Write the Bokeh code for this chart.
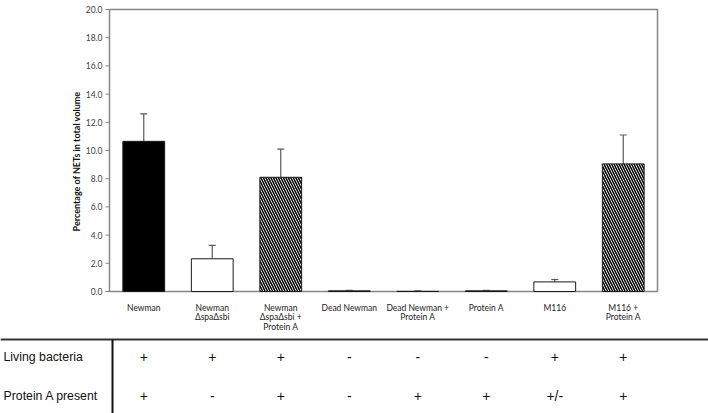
import math
from bokeh.plotting import figure
from bokeh.models import ColumnDataSource, Range1d, Whisker, TeeHead
from bokeh.embed import file_html
from bokeh.resources import INLINE
from bokeh.core.properties import value

# ---------------- data ----------------
categories = ["Newman", "Newman ΔspaΔsbi", "Newman ΔspaΔsbi + Protein A", "Dead Newman",
              "Dead Newman + Protein A", "Protein A", "M116", "M116 + Protein A"]
category_labels = ["Newman", "Newman\nΔspaΔsbi", "Newman\nΔspaΔsbi +\nProtein A", "Dead Newman",
                   "Dead Newman +\nProtein A", "Protein A", "M116", "M116 +\nProtein A"]
nets_pct = [10.65, 2.32, 8.1, 0.05, 0.01, 0.05, 0.68, 9.05]
nets_err = [1.95, 0.95, 2.0, 0.03, 0.04, 0.03, 0.17, 2.05]
y_ticks = [0, 2, 4, 6, 8, 10, 12, 14, 16, 18, 20]
y_label = "Percentage of NETs in total volume"
row_names = ["Living bacteria", "Protein A present"]
living_bacteria = ["+", "+", "+", "-", "-", "-", "+", "+"]
protein_a_present = ["+", "-", "+", "-", "+", "+", "+/-", "+"]

# ---------------- styles / layout ----------------
fill_colors = ["black", "white", "white", "white", "white", "white", "white", "white"]
hatches = [" ", " ", "\\", " ", " ", " ", " ", "\\"]

FONT = "Lato"
TABLE_FONT = "Liberation Sans"
AXIS_GRAY = "#868686"

W, H = 708, 413
AX_L, AX_R, AX_T, AX_B = 109, 657, 9, 291      # chart box, in pixels
n = len(categories)
ymax = y_ticks[-1]
PX_X = (AX_R - AX_L) / n
PX_Y = (AX_B - AX_T) / ymax
X0 = -AX_L / PX_X
X1 = n + (W - AX_R) / PX_X
Y_TOP = ymax + AX_T / PX_Y
Y_BOT = -(H - AX_B) / PX_Y


def ypix(py):
    """pixel row -> y units"""
    return (AX_B - py) / PX_Y


def xpix(px):
    """pixel column -> x units"""
    return (px - AX_L) / PX_X


xs = [i + 0.5 for i in range(n)]

p = figure(x_range=Range1d(X0, X1), y_range=Range1d(Y_BOT, Y_TOP),
           width=W, height=H, output_backend="svg", toolbar_location=None, min_border=0)
p.axis.visible = False
p.xgrid.visible = False
p.ygrid.visible = False
p.outline_line_color = None

src = ColumnDataSource(dict(
    x=xs,
    top=nets_pct,
    upper=[v + e for v, e in zip(nets_pct, nets_err)],
    fill=fill_colors,
    hatch=hatches,
))

# chart box (axes + frame)
p.quad(left=[0], right=[n], bottom=[0], top=[ymax], fill_color=None,
       line_color=AXIS_GRAY, line_width=1.5)

p.vbar(x="x", top="top", width=0.61, source=src, fill_color="fill",
       line_color="#1a1a1a", line_width=1,
       hatch_pattern="hatch", hatch_color="#000000", hatch_scale=5, hatch_weight=1.5)

p.add_layout(Whisker(base="x", upper="upper", lower="top", source=src,
                     line_color="#5a5a5a", line_width=1.2,
                     upper_head=TeeHead(size=7, line_color="#5a5a5a", line_width=1.2),
                     lower_head=None))

# y axis ticks and labels
nt = len(y_ticks)
p.segment(x0=[0] * nt, x1=[-4 / PX_X] * nt, y0=y_ticks, y1=y_ticks,
          line_color=AXIS_GRAY, line_width=1)
p.text(x=[0] * nt, y=y_ticks, text=[f"{t:.1f}" for t in y_ticks],
       x_offset=-7, text_align="right", text_baseline="middle",
       text_font=value(FONT), text_font_size="8.5px", text_color="#404040")
p.text(x=[xpix(76)], y=[ypix(161)], text=[y_label], angle=math.pi / 2,
       text_align="center", text_baseline="middle",
       text_font=value(FONT), text_font_style="bold", text_font_size="9px", text_color="#111111")

# category labels
p.text(x=xs, y=[ypix(302)] * n, text=category_labels, text_align="center", text_baseline="top",
       text_font=value(FONT), text_font_size="8.5px", text_color="#222222", text_line_height=0.95)

# table
row_y = [ypix(356), ypix(395)]
tsrc = ColumnDataSource(dict(
    x=xs * 2,
    y=[row_y[0]] * n + [row_y[1]] * n,
    t=living_bacteria + protein_a_present,
))
p.text(x="x", y="y", text="t", source=tsrc,
       text_align="center", text_baseline="middle",
       text_font=value(TABLE_FONT), text_font_size="14px", text_color="#111111")
p.text(x=[xpix(3)] * 2, y=row_y, text=row_names, text_align="left", text_baseline="middle",
       text_font=value(TABLE_FONT), text_font_size="12.3px", text_color="#111111")

p.segment(x0=[X0], x1=[X1], y0=[ypix(339)], y1=[ypix(339)], line_color="#333333", line_width=2)
p.segment(x0=[xpix(112)], x1=[xpix(112)], y0=[ypix(339)], y1=[Y_BOT], line_color="#111111", line_width=2)

open("out.html", "w").write(file_html(p, INLINE))
